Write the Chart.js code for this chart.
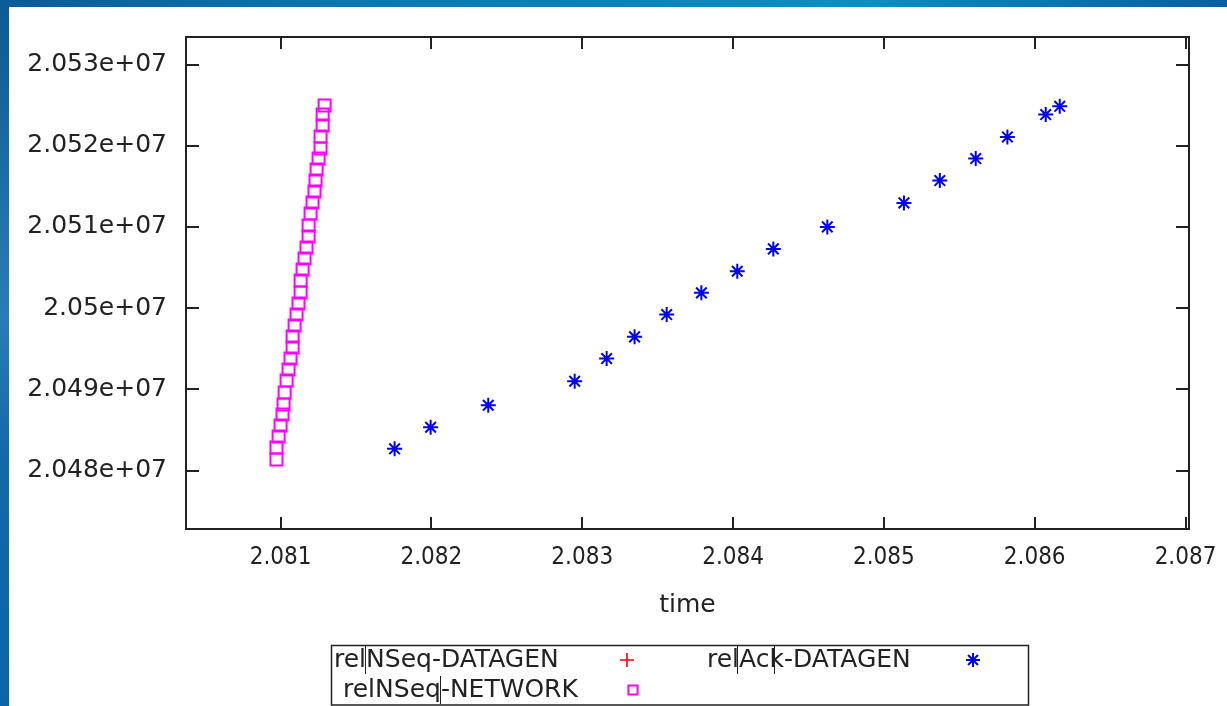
<!DOCTYPE html>
<html>
<head>
<meta charset="utf-8">
<script src="https://cdn.jsdelivr.net/npm/chart.js@4.4.1/dist/chart.umd.min.js"></script>
<style>
  html, body { margin: 0; padding: 0; }
  body {
    width: 1227px; height: 706px; overflow: hidden; position: relative;
    background: linear-gradient(to bottom, #0c5a94, #2a7cb8 45%, #1468a8 65%, #0a66a8);
  }
  #topStrip {
    position: absolute; left: 0; top: 0; width: 1227px; height: 7px;
    background: linear-gradient(to right, #0b5b98, #0a78b5 30%, #0590c4 70%, #0a5ea6);
  }
  #paper { position: absolute; left: 9px; top: 7px; width: 1218px; height: 699px; background: #fff; }
  #wrap { position: absolute; left: 0; top: 0; width: 1227px; height: 706px; }
</style>
</head>
<body>
<div id="topStrip"></div>
<div id="paper"></div>
<div id="wrap"><canvas id="chart"></canvas></div>
<script>
// series
const datagenTime = [];
const datagenSeq = [];

const netTime = [2.080973, 2.080973, 2.080987, 2.081000, 2.081013, 2.081020, 2.081027, 2.081040, 2.081053,
  2.081066, 2.081080, 2.081080, 2.081093, 2.081106, 2.081119, 2.081133, 2.081133, 2.081146, 2.081159,
  2.081172, 2.081186, 2.081186, 2.081199, 2.081212, 2.081225, 2.081232, 2.081239, 2.081252, 2.081265,
  2.081265, 2.081279, 2.081279, 2.081292];
const netSeq = [20481355, 20482832, 20484187, 20485542, 20486896, 20488128, 20489606, 20491084, 20492438,
  20493793, 20495147, 20496502, 20497857, 20499211, 20500566, 20501921, 20503399, 20504753, 20506108,
  20507462, 20508817, 20510172, 20511650, 20513004, 20514359, 20515714, 20517068, 20518423, 20519654,
  20521132, 20522487, 20523841, 20524950];

const ackTime = [2.081756, 2.081995, 2.082377, 2.082950, 2.083162, 2.083347, 2.083560, 2.083790, 2.084028,
  2.084267, 2.084625, 2.085133, 2.085371, 2.085609, 2.085819, 2.086073, 2.086166];
const ackSeq = [20482672, 20485332, 20488042, 20490997, 20493793, 20496465, 20499211, 20501884, 20504544,
  20507302, 20510012, 20512968, 20515714, 20518423, 20521096, 20523841, 20524863];

// axes
const xTicks = [2.081, 2.082, 2.083, 2.084, 2.085, 2.086, 2.087];
const xTickLabels = ['2.081', '2.082', '2.083', '2.084', '2.085', '2.086', '2.087'];
const yTicks = [20480000, 20490000, 20500000, 20510000, 20520000, 20530000];
const yTickLabels = ['2.048e+07', '2.049e+07', '2.05e+07', '2.051e+07', '2.052e+07', '2.053e+07'];
const xRange = [2.080373, 2.087023];
const yRange = [20472800, 20533400];

const seriesNames = ['relNSeq-DATAGEN', 'relNSeq-NETWORK', 'relAck-DATAGEN'];

const toPoints = (xs, ys) => xs.map((x, i) => ({ x: x, y: ys[i] }));
const ink = '#222';

// gnuplot style frame with inward ticks on all four sides
const framePlugin = {
  id: 'frame',
  beforeDatasetsDraw(chart) {
    const { ctx, chartArea: a, scales } = chart;
    ctx.save();
    ctx.strokeStyle = ink;
    ctx.lineWidth = 2;
    ctx.strokeRect(a.left, a.top, a.right - a.left, a.bottom - a.top);
    ctx.beginPath();
    xTicks.forEach(v => {
      const px = Math.round(scales.x.getPixelForValue(v));
      ctx.moveTo(px, a.bottom); ctx.lineTo(px, a.bottom - 12);
      ctx.moveTo(px, a.top); ctx.lineTo(px, a.top + 12);
    });
    yTicks.forEach(v => {
      const py = Math.round(scales.y.getPixelForValue(v));
      ctx.moveTo(a.left, py); ctx.lineTo(a.left + 13, py);
      ctx.moveTo(a.right, py); ctx.lineTo(a.right - 13, py);
    });
    ctx.stroke();
    ctx.restore();
  }
};

// boxed two-column key under the plot
const keyPlugin = {
  id: 'key',
  afterDraw(chart) {
    const ctx = chart.ctx;
    const ds = chart.data.datasets;
    const slots = [
      { tx: 334, sx: 627, y: 660 },
      { tx: 343, sx: 633, y: 690 },
      { tx: 707, sx: 973, y: 660 }
    ];
    ctx.save();
    ctx.strokeStyle = ink;
    ctx.lineWidth = 1.5;
    ctx.strokeRect(331.5, 645.5, 697, 59.5);
    ctx.font = '25px "DejaVu Sans"';
    ctx.textBaseline = 'middle';
    ds.forEach((d, i) => {
      const s = slots[i];
      ctx.fillStyle = ink;
      ctx.fillText(d.label, s.tx, s.y);
      ctx.strokeStyle = d.borderColor;
      ctx.fillStyle = d.backgroundColor;
      ctx.lineWidth = d.borderWidth;
      Chart.helpers.drawPoint(ctx, {
        pointStyle: d.pointStyle, radius: d.keyRadius, rotation: 0, borderWidth: d.borderWidth
      }, s.sx, s.y);
    });
    // stray rendering lines seen in the key
    ctx.strokeStyle = ink;
    ctx.lineWidth = 1;
    ctx.beginPath();
    [[365.5, 646, 674], [440.5, 676, 704], [737.5, 646, 674], [774.5, 646, 674]].forEach(l => {
      ctx.moveTo(l[0], l[1]); ctx.lineTo(l[0], l[2]);
    });
    ctx.stroke();
    ctx.restore();
  }
};

new Chart(document.getElementById('chart'), {
  type: 'scatter',
  data: {
    datasets: [
      {
        label: seriesNames[0],
        data: toPoints(datagenTime, datagenSeq),
        pointStyle: 'cross', pointRadius: 7, keyRadius: 7,
        borderColor: '#ff0000', backgroundColor: 'rgba(0,0,0,0)', borderWidth: 1.6
      },
      {
        label: seriesNames[1],
        data: toPoints(netTime, netSeq),
        pointStyle: 'rect', pointRadius: 8.5, keyRadius: 6.5,
        borderColor: '#ff00ff', backgroundColor: 'rgba(0,0,0,0)', borderWidth: 2
      },
      {
        label: seriesNames[2],
        data: toPoints(ackTime, ackSeq),
        pointStyle: 'star', pointRadius: 7.5, keyRadius: 7,
        borderColor: '#0000ff', backgroundColor: '#0000ff', borderWidth: 2
      }
    ]
  },
  options: {
    responsive: true,
    maintainAspectRatio: false,
    animation: false,
    events: [],
    layout: { padding: { top: 37, right: 38, left: 0, bottom: 0 } },
    plugins: { legend: { display: false }, tooltip: { enabled: false } },
    scales: {
      x: {
        type: 'linear',
        min: xRange[0], max: xRange[1],
        grid: { display: false, drawTicks: false },
        border: { display: false },
        afterBuildTicks: s => { s.ticks = xTicks.map(v => ({ value: v })); },
        afterFit: s => { s.height = 177; s.paddingLeft = 0; s.paddingRight = 0; },
        ticks: {
          autoSkip: false, maxRotation: 0, padding: 14, color: ink,
          font: { family: '"DejaVu Sans Condensed", "DejaVu Sans"', size: 24 },
          callback: (v) => xTickLabels[xTicks.indexOf(v)]
        },
        title: {
          display: true, text: 'time', color: ink,
          font: { family: '"DejaVu Sans"', size: 25 },
          padding: { top: 0, bottom: 86 }
        }
      },
      y: {
        type: 'linear',
        min: yRange[0], max: yRange[1],
        grid: { display: false, drawTicks: false },
        border: { display: false },
        afterBuildTicks: s => { s.ticks = yTicks.map(v => ({ value: v })); },
        afterFit: s => { s.width = 186; s.paddingTop = 0; s.paddingBottom = 0; },
        ticks: {
          autoSkip: false, padding: 19, color: ink,
          font: { family: '"DejaVu Sans"', size: 25 },
          callback: (v) => yTickLabels[yTicks.indexOf(v)]
        }
      }
    }
  },
  plugins: [framePlugin, keyPlugin]
});
</script>
</body>
</html>
